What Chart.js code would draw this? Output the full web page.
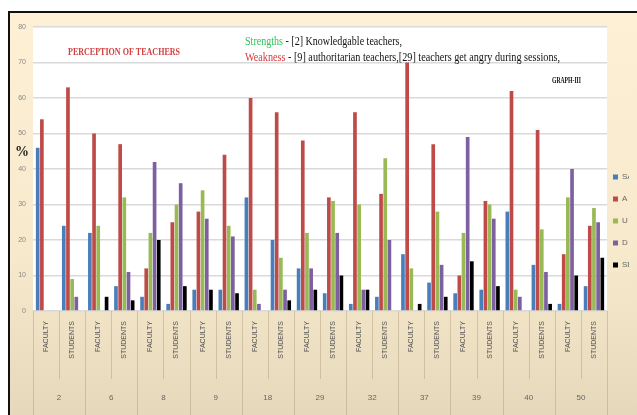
<!DOCTYPE html>
<html>
<head>
<meta charset="utf-8">
<script src="https://cdn.jsdelivr.net/npm/chart.js@4"></script>
<style>
  html, body { margin: 0; padding: 0; background: #fff; }
  #frame {
    position: absolute; left: 8px; top: 11px;
    border-left: 2px solid #111; border-top: 2px solid #111;
    width: 627px; height: 402px;
  }
  canvas { display: block; }
</style>
</head>
<body>
<div id="frame"><canvas id="perceptionChart" width="627" height="402"></canvas></div>
<script>
// Questions and respondent groups
const groups = ['2', '6', '8', '9', '18', '29', '32', '37', '39', '40', '50'];
const respondents = ['FACULTY', 'STUDENTS'];
const seriesNames = ['SA', 'A', 'U', 'D', 'SD'];
const yTicks = [0, 10, 20, 30, 40, 50, 60, 70, 80];

// Percent values, one per column (FACULTY, STUDENTS for each question)
const saValues = [46, 24, 22, 7, 4, 2, 6, 6, 32, 20, 12, 5, 2, 4, 16, 8, 5, 6, 28, 13, 2, 7];
const aValues  = [54, 63, 50, 47, 12, 25, 28, 44, 60, 56, 48, 32, 56, 33, 70, 47, 10, 31, 62, 51, 16, 24];
const uValues  = [0, 9, 24, 32, 22, 30, 34, 24, 6, 15, 22, 31, 30, 43, 12, 28, 22, 30, 6, 23, 32, 29];
const dValues  = [0, 4, 0, 11, 42, 36, 26, 21, 2, 6, 12, 22, 6, 20, 0, 13, 49, 26, 4, 11, 40, 25];
const sdValues = [0, 0, 4, 3, 20, 7, 6, 5, 0, 3, 6, 10, 6, 0, 2, 4, 14, 7, 0, 2, 10, 15];

const colors = ['#4a7ebb', '#be4b48', '#98b954', '#7d60a0', '#000000'];

const columns = [];
groups.forEach(() => respondents.forEach(r => columns.push(r)));

const allValues = [saValues, aValues, uValues, dValues, sdValues];

// background, separators and the captions
const decorPlugin = {
    id: 'decor',
    beforeDraw(chart) {
        const { ctx, chartArea, width, height } = chart;
        const g = ctx.createLinearGradient(0, 0, 0, height);
        g.addColorStop(0, '#fdf0d5');
        g.addColorStop(0.6, '#f6e9cc');
        g.addColorStop(1, '#e6d9bb');
        ctx.save();
        ctx.fillStyle = g;
        ctx.fillRect(0, 0, width, height);
        ctx.fillStyle = '#ffffff';
        ctx.fillRect(chartArea.left, chartArea.top, chartArea.right - chartArea.left, chartArea.bottom - chartArea.top);
        ctx.restore();
    },
    afterDraw(chart) {
        const { ctx, chartArea } = chart;
        const xs = chart.scales.x;
        const step = (chartArea.right - chartArea.left) / columns.length;
        ctx.save();
        ctx.strokeStyle = 'rgba(170,155,120,0.45)';
        ctx.lineWidth = 1;
        for (let i = 0; i <= columns.length; i++) {
            const x = Math.round(chartArea.left + i * step) + 0.5;
            const yEnd = i % 2 === 0 ? chart.height : xs.bottom - 2;
            ctx.beginPath();
            ctx.moveTo(x, chartArea.bottom);
            ctx.lineTo(x, yEnd);
            ctx.stroke();
        }

        const drawParts = (parts, x, y, targetWidth, font) => {
            ctx.font = font;
            const total = parts.reduce((s, p) => s + ctx.measureText(p[0]).width, 0);
            const k = targetWidth / total;
            ctx.save();
            ctx.translate(x, y);
            ctx.scale(k, 1);
            let cx = 0;
            parts.forEach(p => {
                ctx.fillStyle = p[1];
                ctx.fillText(p[0], cx, 0);
                cx += ctx.measureText(p[0]).width;
            });
            ctx.restore();
        };
        ctx.textBaseline = 'middle';
        ctx.textAlign = 'left';
        drawParts([['PERCEPTION OF TEACHERS', '#cf3f3f']], 58, 39, 112, 'bold 11px "Liberation Serif"');
        drawParts([['Strengths', '#2fc25b'], [' - [2] Knowledgable teachers,', '#111']], 235, 29, 157, '12px "Liberation Serif"');
        drawParts([['Weakness', '#d8383a'], [' - [9] authoritarian teachers,[29] teachers get angry during sessions,', '#111']], 235, 45, 315, '12px "Liberation Serif"');
        drawParts([['GRAPH-III', '#111']], 542, 68, 29, 'bold 9px "Liberation Serif"');
        ctx.font = 'bold 14px "Liberation Serif"';
        ctx.fillStyle = '#222';
        ctx.fillText('%', 5, 139);
        ctx.restore();
    },
    afterLayout(chart) {
        // keep the legend close to the plot edge
        const lg = chart.legend;
        if (lg) { lg.left -= 8; lg.right -= 8; }
    }
};

const canvas = document.getElementById('perceptionChart');

const chart = new Chart(canvas, {
    type: 'bar',
    data: {
        labels: columns,
        datasets: seriesNames.map((name, i) => ({
            label: name,
            data: allValues[i],
            backgroundColor: colors[i],
            borderWidth: 0,
            categoryPercentage: 0.8,
            barPercentage: 0.88
        }))
    },
    options: {
        responsive: false,
        animation: false,
        layout: { padding: { top: 14, left: 0, right: 0, bottom: 0 } },
        plugins: {
            legend: {
                position: 'right',
                labels: {
                    usePointStyle: true,
                    pointStyle: 'rect',
                    boxWidth: 5,
                    boxHeight: 5,
                    padding: 14,
                    color: '#666',
                    font: { size: 8, family: 'Liberation Sans' }
                }
            },
            tooltip: { enabled: false }
        },
        scales: {
            x: {
                weight: 0,
                grid: { display: false, drawTicks: false },
                border: { display: false },
                ticks: {
                    minRotation: 90,
                    maxRotation: 90,
                    padding: 10,
                    color: '#555',
                    font: { size: 7, family: 'Liberation Sans' }
                },
                afterFit: s => { s.height = 70; }
            },
            x2: {
                type: 'category',
                labels: groups,
                position: 'bottom',
                weight: 1,
                offset: true,
                grid: { display: false, drawTicks: false },
                border: { display: false },
                ticks: {
                    padding: 12,
                    color: '#666',
                    font: { size: 8, family: 'Liberation Sans' }
                },
                afterFit: s => { s.height = 34; }
            },
            y: {
                min: 0,
                max: 80,
                afterBuildTicks: s => { s.ticks = yTicks.map(v => ({ value: v })); },
                grid: { color: '#d9d9d9', lineWidth: 1.5, drawTicks: false },
                border: { display: false },
                ticks: {
                    padding: 7,
                    color: '#888',
                    font: { size: 7, family: 'Liberation Sans' }
                },
                afterFit: s => { s.width = 23; }
            }
        }
    },
    plugins: [decorPlugin]
});

// fixed legend strip width on the right
const origFit = chart.legend.fit;
chart.legend.fit = function () {
    origFit.call(this);
    this.width = 30;
};
chart.update();
</script>
</body>
</html>
